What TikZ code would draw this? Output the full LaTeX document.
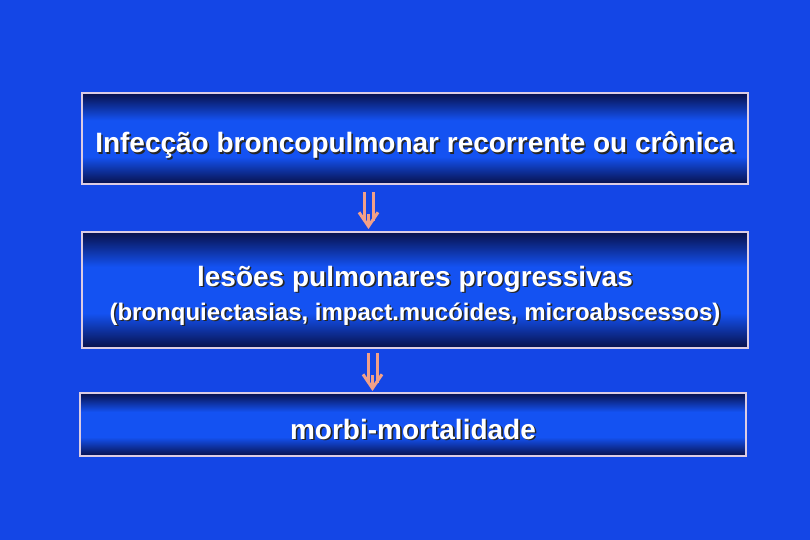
\documentclass[tikz,border=0pt]{standalone}
\usepackage{fontspec}
\setmainfont{Liberation Sans}
\usepackage{xcolor}
\usetikzlibrary{arrows.meta}
\definecolor{bgblue}{HTML}{1446E6}
\definecolor{boxdark}{HTML}{08104A}
\definecolor{boxmid}{HTML}{1452F2}
\definecolor{rim}{HTML}{DCCCE4}
\definecolor{salmon}{HTML}{F2A088}
\pgfdeclareverticalshading{boxshade}{100bp}{color(0bp)=(boxdark); color(25bp)=(boxdark); color(40bp)=(boxmid); color(60bp)=(boxmid); color(75bp)=(boxdark); color(100bp)=(boxdark)}
\tikzset{
  stepbox/.style={draw=rim, line width=1.6bp, shading=boxshade, minimum width=666bp, inner sep=0pt, text=white, font=\bfseries},
  implarrow/.style={draw=salmon, line width=3bp, double=bgblue, double distance=6bp, shorten >=8bp},
  implhead/.style={draw=salmon, line width=3bp, shorten <=22bp, -{Straight Barb[length=14bp,width=19bp]}}
}
\newcommand\shd[1]{\leavevmode\rlap{\kern1.6bp\raisebox{-1.6bp}{\textcolor{black!85}{#1}}}#1}

\begin{document}
\begin{tikzpicture}[x=1bp,y=-1bp]
  % Background
  \fill[bgblue] (0,0) rectangle (810,540);
  \useasboundingbox (0,0) rectangle (810,540);
  % Boxes
  \node[stepbox, minimum height=91bp, text height=29bp, text depth=0bp] (infec) at (415,138.5)
    {\fontsize{28bp}{32bp}\selectfont\shd{Infecção broncopulmonar recorrente ou crônica}};
  \node[stepbox, minimum height=116bp, align=center] (lesoes) at (415,290)
    {\fontsize{28bp}{32bp}\selectfont\rule{0pt}{33bp}\shd{lesões pulmonares progressivas}\\[8bp]
     \fontsize{24bp}{27bp}\selectfont\shd{(bronquiectasias, impact.mucóides, microabscessos)}};
  \node[stepbox, minimum height=63bp, text height=29bp, text depth=0bp] (morbi) at (413,424.5)
    {\fontsize{28bp}{32bp}\selectfont\shd{morbi-mortalidade}};
  % Arrows
  \coordinate (a1s) at (368.5,192);
  \coordinate (a1e) at (368.5,229);
  \coordinate (a2s) at (372.5,353);
  \coordinate (a2e) at (372.5,391);
  \draw[implarrow] (a1s) -- (a1e);
  \draw[implhead] (a1s) -- (a1e);
  \draw[implarrow] (a2s) -- (a2e);
  \draw[implhead] (a2s) -- (a2e);
\end{tikzpicture}
\end{document}
